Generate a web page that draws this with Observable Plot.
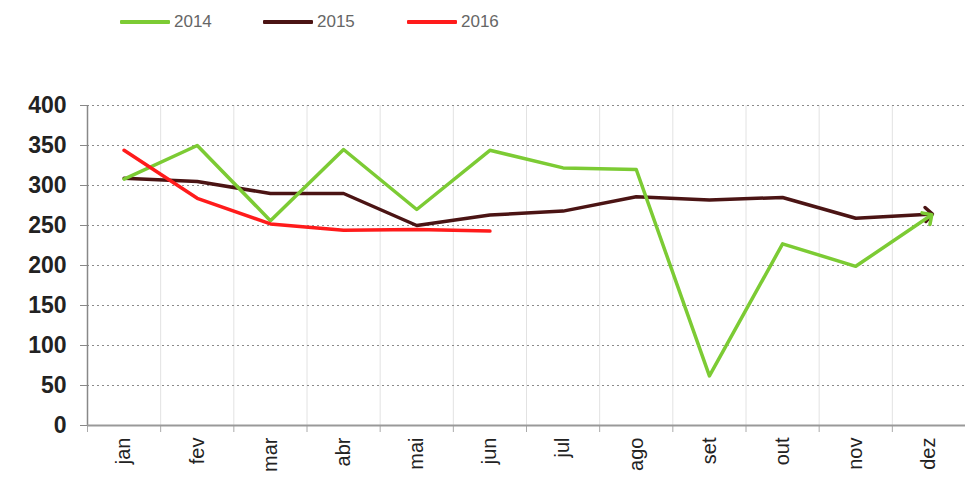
<!DOCTYPE html>
<html><head><meta charset="utf-8">
<script src="https://cdn.jsdelivr.net/npm/d3@7"></script>
<script src="https://cdn.jsdelivr.net/npm/@observablehq/plot@0.6"></script>
<style>
body{margin:0;background:#fff;font-family:"Liberation Sans",Arial,sans-serif;}
#legend{position:relative;height:45px;width:965px;}
.item{position:absolute;top:12px;display:flex;align-items:center;font-size:17px;color:#666;height:20px;}
.sw{width:50px;height:4px;margin-right:4px;border-radius:1px;}
#chart svg{display:block;}
</style></head><body>
<div id="legend"></div>
<div id="chart"></div>
<script>
const months = ["jan","fev","mar","abr","mai","jun","jul","ago","set","out","nov","dez"];
const years = ["2014","2015","2016"];
const colors = ["#7ccb34","#4b1414","#ff1b1b"];
const v2014 = [308,350,256,345,270,344,322,320,62,227,199,261];
const v2015 = [309,305,290,290,250,263,268,286,282,285,259,264];
const v2016 = [344,284,252,244,245,243];
const yTicks = [0,50,100,150,200,250,300,350,400];
const legendLeft = [120,263,407];

const series = [v2014, v2015, v2016];
const rows = series.map((vals, k) => vals.map((v, i) => ({year: years[k], month: months[i], x: i + 0.5, y: v})));

// legend
const leg = document.getElementById("legend");
years.forEach((y, k) => {
  const it = document.createElement("div");
  it.className = "item";
  it.style.left = legendLeft[k] + "px";
  it.innerHTML = `<span class="sw" style="background:${colors[k]}"></span><span>${y}</span>`;
  leg.appendChild(it);
});

const chart = Plot.plot({
  width: 965,
  height: 438,
  marginTop: 60,
  marginBottom: 58,
  marginLeft: 87,
  marginRight: 0,
  style: {fontFamily: "Liberation Sans, Arial, sans-serif", color: "#222", background: "#fff"},
  x: {type: "linear", domain: [0, 12], label: null},
  y: {domain: [0, 400], label: null},
  marks: [
    Plot.ruleX(d3.range(1, 13), {stroke: "#e2e2e2", strokeWidth: 1}),
    Plot.gridY({ticks: yTicks.filter(d => d > 0), stroke: "#8a8a8a", strokeOpacity: 1, strokeDasharray: "2,3", strokeWidth: 1.2}),
    Plot.axisY({ticks: yTicks, label: null, tickSize: 7, tickPadding: 14, fontSize: 23, fontWeight: "bold", fill: "#222", stroke: "#888", tickFormat: d => String(d)}),
    Plot.axisX({ticks: d3.range(0, 13), label: null, tickSize: 7, stroke: "#aaa", tickFormat: () => ""}),
    Plot.axisX({ticks: months.map((m, i) => i + 0.5), label: null, tickFormat: d => months[Math.floor(d)], tickSize: 0, tickRotate: -90, tickPadding: 12, fontSize: 20, fill: "#222", textAnchor: "end", lineAnchor: "middle"}),
    Plot.ruleX([0], {stroke: "#888", strokeWidth: 1.5}),
    Plot.ruleY([0], {stroke: "#999", strokeWidth: 2}),
    Plot.line(rows[1], {x: "x", y: "y", stroke: colors[1], strokeWidth: 3.5, markerEnd: "arrow"}),
    Plot.line(rows[0], {x: "x", y: "y", stroke: colors[0], strokeWidth: 3.5, markerEnd: "arrow"}),
    Plot.line(rows[2], {x: "x", y: "y", stroke: colors[2], strokeWidth: 3.5})
  ]
});
document.getElementById("chart").appendChild(chart);
</script>
</body></html>
